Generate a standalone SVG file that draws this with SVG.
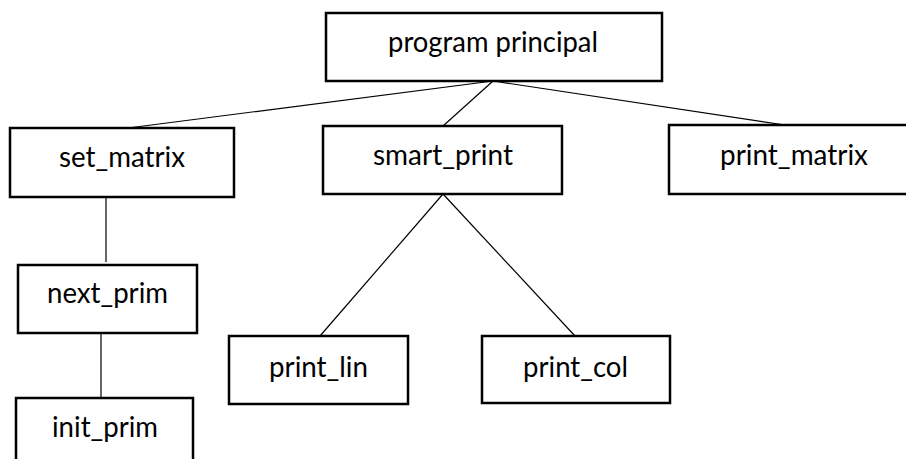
<svg xmlns="http://www.w3.org/2000/svg" width="906" height="459" viewBox="0 0 906 459">
  <style>
    .box { fill: #ffffff; stroke: #000000; stroke-width: 2.5; }
    .link { stroke: #000000; stroke-width: 1.2; fill: none; }
    .label { font-family: "Lato", "Open Sans", "Liberation Sans", sans-serif; font-size: 28px; fill: #000000; text-anchor: middle; }
  </style>
  <rect width="906" height="459" fill="#ffffff"/>

  <g id="connectors">
    <line class="link" x1="493" y1="81" x2="128" y2="128"/>
    <line class="link" x1="493" y1="81" x2="443" y2="126"/>
    <line class="link" x1="493" y1="81" x2="785" y2="125"/>
    <line class="link" x1="106" y1="197" x2="106" y2="262"/>
    <line class="link" x1="101" y1="333" x2="101" y2="398"/>
    <line class="link" x1="443" y1="194" x2="320" y2="336"/>
    <line class="link" x1="443" y1="194" x2="575" y2="336"/>
  </g>

  <g id="program_principal">
    <rect class="box" x="326" y="13" width="336" height="68"/>
    <text class="label" x="493" y="52" textLength="210" lengthAdjust="spacingAndGlyphs">program principal</text>
  </g>

  <g id="set_matrix">
    <rect class="box" x="10" y="128" width="224" height="69"/>
    <text class="label" x="122" y="167" textLength="126" lengthAdjust="spacingAndGlyphs">set_matrix</text>
  </g>

  <g id="smart_print">
    <rect class="box" x="323" y="126" width="239" height="68"/>
    <text class="label" x="443" y="165" textLength="140" lengthAdjust="spacingAndGlyphs">smart_print</text>
  </g>

  <g id="print_matrix">
    <rect class="box" x="669" y="125" width="250" height="69"/>
    <text class="label" x="794" y="165" textLength="148" lengthAdjust="spacingAndGlyphs">print_matrix</text>
  </g>

  <g id="next_prim">
    <rect class="box" x="18" y="265" width="179" height="68"/>
    <text class="label" x="107.5" y="303" textLength="121" lengthAdjust="spacingAndGlyphs">next_prim</text>
  </g>

  <g id="init_prim">
    <rect class="box" x="16" y="398" width="177" height="70"/>
    <text class="label" x="105" y="437" textLength="106" lengthAdjust="spacingAndGlyphs">init_prim</text>
  </g>

  <g id="print_lin">
    <rect class="box" x="229" y="336" width="179" height="68"/>
    <text class="label" x="318.5" y="377" textLength="99" lengthAdjust="spacingAndGlyphs">print_lin</text>
  </g>

  <g id="print_col">
    <rect class="box" x="482" y="336" width="188" height="67"/>
    <text class="label" x="575.5" y="377" textLength="105" lengthAdjust="spacingAndGlyphs">print_col</text>
  </g>
</svg>
